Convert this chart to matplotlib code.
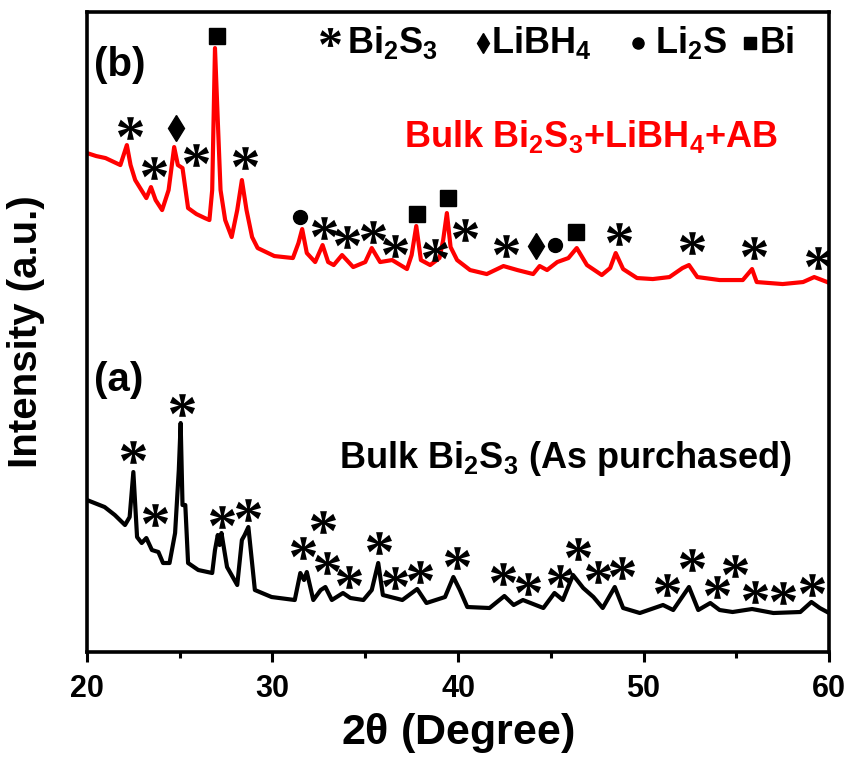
import numpy as np
import matplotlib
matplotlib.use('Agg')
import matplotlib.pyplot as plt
from matplotlib.textpath import TextPath
from matplotlib.font_manager import FontProperties
from matplotlib.path import Path

# 2theta (deg) and intensity (a.u., arbitrary scale 0-640)
red_theta = [20.0, 20.5, 21.0, 21.8, 22.15, 22.35, 22.6, 23.2, 23.45, 23.7, 24.05, 24.4, 24.7, 24.9,
             25.15, 25.45, 25.9, 26.35, 26.6, 26.75, 26.9, 27.05, 27.2, 27.45, 27.8, 28.1, 28.35,
             28.6, 28.9, 29.2, 30.1, 31.1, 31.4, 31.6, 31.85, 32.3, 32.7, 33.0, 33.3, 33.75, 34.35,
             35.0, 35.35, 35.8, 36.45, 37.25, 37.5, 37.75, 38.0, 38.5, 39.0, 39.2, 39.4, 39.6, 39.95,
             40.65, 41.55, 42.45, 43.2, 44.05, 44.4, 44.8, 45.35, 45.95, 46.4, 46.95, 47.75, 48.2,
             48.5, 48.9, 49.65, 50.5, 51.4, 52.1, 52.45, 52.9, 54.1, 55.35, 55.85, 56.1, 57.5, 58.6,
             59.2, 59.9, 60.0]
red_int = [499, 496, 494, 487, 507, 487, 472, 454, 465, 452, 442, 462, 505, 487,
           484, 444, 438, 434, 432, 462, 604, 532, 462, 432, 415, 442, 472,
           442, 415, 404, 396, 394, 409, 423, 399, 390, 407, 390, 387, 397, 385,
           390, 404, 390, 392, 383, 397, 426, 392, 387, 394, 412, 439, 405, 392,
           382, 378, 386, 382, 378, 386, 382, 390, 394, 404, 387, 377, 384,
           399, 383, 374, 373, 375, 384, 387, 375, 372, 372, 383, 370, 368, 370,
           375, 370, 369]

black_theta = [20.0, 20.95, 21.5, 22.05, 22.3, 22.5, 22.7, 22.95, 23.2, 23.5, 23.85, 24.1, 24.45,
               24.75, 24.95, 25.05, 25.15, 25.3, 25.45, 26.0, 26.75, 26.9, 27.05, 27.15, 27.25,
               27.55, 28.1, 28.35, 28.5, 28.7, 29.05, 29.95, 31.2, 31.5, 31.7, 31.85, 32.2, 32.6,
               32.85, 33.2, 33.8, 34.2, 34.9, 35.35, 35.7, 35.95, 37.0, 37.8, 38.3, 39.3, 39.75,
               40.1, 40.5, 41.7, 42.5, 43.0, 43.5, 44.6, 45.2, 45.65, 46.2, 46.75, 47.3, 47.8,
               48.45, 48.9, 49.8, 51.05, 51.6, 52.45, 52.95, 53.6, 54.1, 54.8, 55.85, 57.0, 58.45,
               59.05, 59.5, 60.0]
black_int = [152, 145, 137, 127, 135, 180, 115, 109, 114, 102, 100, 89, 89,
             119, 182, 229, 147, 147, 89, 82, 79, 102, 117, 107, 119,
             85, 67, 112, 117, 125, 62, 55, 52, 79, 72, 80, 52, 62,
             65, 52, 59, 54, 52, 62, 89, 57, 52, 63, 49, 55, 75,
             62, 45, 44, 56, 47, 52, 44, 59, 52, 77, 64, 55, 44,
             65, 44, 39, 47, 42, 65, 42, 49, 42, 40, 43, 39, 40,
             50, 44, 39]

# peak markers (theta, intensity)
red_star_theta = [22.3, 23.6, 25.9, 28.5, 32.8, 34.0, 35.4, 36.6, 38.75, 40.4, 42.6, 48.7, 52.6, 55.95, 59.4]
red_star_int = [524, 484, 497, 494, 424, 415, 420, 406, 402, 422, 406, 418, 409, 404, 394]
red_diamond_theta = [24.8, 44.2]
red_diamond_int = [524, 406]
red_circle_theta = [31.5, 45.25]
red_circle_int = [435, 407]
red_square_theta = [27.0, 37.8, 39.45, 46.35]
red_square_int = [616, 438, 454, 420]

black_star_theta = [22.48, 23.67, 25.12, 27.28, 28.68, 31.64, 32.72, 32.94, 34.12, 35.74, 36.6, 37.95,
                    39.95, 42.43, 43.77, 45.5, 46.47, 47.55, 48.84, 51.27, 52.61, 53.96, 54.93,
                    56.01, 57.52, 59.08]
black_star_int = [200, 137, 247, 135, 142, 104, 130, 89, 75, 109, 74, 80,
                  94, 78, 68, 76, 103, 80, 84, 67, 92, 65, 86,
                  60, 59, 67]

plt.rcParams['font.family'] = ['Liberation Sans', 'DejaVu Sans']
plt.rcParams['font.weight'] = 'bold'
plt.rcParams['axes.labelweight'] = 'bold'
plt.rcParams['mathtext.fontset'] = 'custom'
plt.rcParams['mathtext.bf'] = 'Liberation Sans:bold'
plt.rcParams['mathtext.rm'] = 'Liberation Sans:bold'
plt.rcParams['mathtext.default'] = 'bf'

# six-petal asterisk marker from a serif glyph, centred on its ink
tp = TextPath((0, 0), '*', prop=FontProperties(family='Liberation Serif', weight='bold'))
v = tp.vertices.copy()
ok = tp.codes != Path.CLOSEPOLY
v -= (v[ok].min(axis=0) + v[ok].max(axis=0)) / 2
v[~ok] = 0
star = Path(v, tp.codes)

fig = plt.figure(figsize=(8.51, 7.6), dpi=100)
ax = fig.add_axes([0.1022, 0.1421, 0.872, 0.842])

ax.plot(black_theta, black_int, color='black', lw=3, solid_joinstyle='round')
ax.plot(red_theta, red_int, color='#ff0000', lw=3, solid_joinstyle='round')

ax.plot(red_star_theta, red_star_int, ls='none', marker=star, ms=18, mew=0, color='black')
ax.plot(black_star_theta, black_star_int, ls='none', marker=star, ms=18, mew=0, color='black')
ax.plot(red_diamond_theta, red_diamond_int, ls='none', marker='d', ms=13, color='black')
ax.plot(red_circle_theta, red_circle_int, ls='none', marker='o', ms=10, color='black')
ax.plot(red_square_theta, red_square_int, ls='none', marker='s', ms=11, color='black')

# header key
ax.plot([33.1], [615], ls='none', marker=star, ms=15, mew=0, color='black')
ax.text(34.0, 599, r'Bi$_2$S$_3$', fontsize=26, va='baseline')
ax.plot([41.35], [609], ls='none', marker='d', ms=10, color='black')
ax.text(41.8, 599, r'LiBH$_4$', fontsize=26, va='baseline')
ax.plot([49.7], [609], ls='none', marker='o', ms=8, color='black')
ax.text(50.6, 599, r'Li$_2$S', fontsize=26, va='baseline')
ax.plot([55.75], [609], ls='none', marker='s', ms=9, color='black')
ax.text(56.25, 599, 'Bi', fontsize=26, va='baseline')

ax.text(20.4, 587, '(b)', fontsize=29, va='center')
ax.text(20.4, 272, '(a)', fontsize=29, va='center')
ax.text(37.1, 505, r'Bulk Bi$_2$S$_3$+LiBH$_4$+AB', fontsize=26, color='#ff0000', va='baseline')
ax.text(33.6, 184, r'Bulk Bi$_2$S$_3$ (As purchased)', fontsize=26, va='baseline')

ax.set_xlim(20, 60)
ax.set_ylim(0, 640)
ax.set_xticks([20, 30, 40, 50, 60])
ax.set_xticks([25, 35, 45, 55], minor=True)
ax.set_yticks([])
ax.tick_params(axis='x', which='major', direction='out', length=7, width=2.2, labelsize=22, pad=9)
ax.tick_params(axis='x', which='minor', direction='out', length=4, width=2.2)
for s in ax.spines.values():
    s.set_linewidth(2.6)

ax.set_xlabel(r'2$\theta$ (Degree)', fontsize=31, fontweight='bold', labelpad=5)
ax.set_ylabel('Intensity (a.u.)', fontsize=29, fontweight='bold', labelpad=30)

fig.savefig('out.png', dpi=100)
